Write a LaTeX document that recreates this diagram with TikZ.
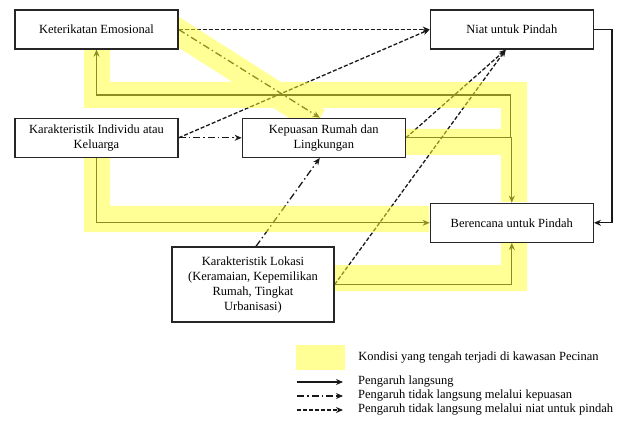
\documentclass[tikz,border=0pt]{standalone}
\usepackage{fontspec}
\setmainfont{Liberation Serif}
\usepackage{tikz}
\usetikzlibrary{arrows.meta, positioning}
\definecolor{garis}{RGB}{25,25,25}
\definecolor{sorot}{RGB}{255,255,45}
\definecolor{sorotmuda}{RGB}{255,255,150}
\pgfdeclarelayer{dasar}
\pgfdeclarelayer{sorotan}
\pgfsetlayers{dasar,sorotan,main}
\tikzset{
  kotak/.style={rectangle, draw=black!85, fill=white, line width=1.3pt,
    minimum width=163pt, minimum height=39pt, align=center, inner sep=2pt,
    font=\fontsize{12.5}{15}\selectfont},
  langsung/.style={-{Stealth[length=7pt, width=6pt]}, line width=1.3pt, color=garis},
  lewatpuas/.style={langsung, dash pattern=on 7pt off 3pt on 1.5pt off 3pt},
  lewatniat/.style={langsung, dash pattern=on 4pt off 2pt},
  pecinan/.style={line width=26pt, color=sorot},
  keterangan/.style={anchor=west, inner sep=0pt, font=\fontsize{12.5}{15}\selectfont}
}
\begin{document}
\begin{tikzpicture}[x=1pt, y=-1pt]
  \useasboundingbox (0,0) rectangle (637,422);
  % kotak-kotak
  \node[kotak] (emosi) at (96.5,29.5) {Keterikatan Emosional};
  \node[kotak, right=251pt of emosi] (niat) {Niat untuk Pindah};
  \node[kotak, below=68pt of emosi] (individu) {Karakteristik Individu atau\\Keluarga};
  \node[kotak, right=63pt of individu] (puas) {Kepuasan Rumah dan\\Lingkungan};
  \node[kotak, below=153pt of niat] (rencana) {Berencana untuk Pindah};
  \node[kotak, minimum width=162pt, minimum height=75pt] (lokasi) at (253,284.5)
    {Karakteristik Lokasi\\(Keramaian, Kepemilikan\\Rumah, Tingkat\\Urbanisasi)};
  \coordinate (simpang) at (510.5,95);
  % panah
  \begin{pgfonlayer}{dasar}
    \draw[lewatniat] (emosi.east) -- (niat.west);
    \draw[lewatpuas] (emosi.east) -- ([xshift=-4pt]puas.north);
    \draw[lewatpuas] (individu.east) -- (puas.west);
    \draw[lewatniat] (individu.east) -- (niat.west);
    \draw[lewatniat] (puas.east) -- ([xshift=-6pt]niat.south);
    \draw[lewatniat] (lokasi.east) -- ([xshift=-6pt]niat.south);
    \draw[lewatpuas] ([xshift=3pt]lokasi.north) -- ([xshift=-4pt]puas.south);
    \draw[langsung] (niat.east) -- ++(18,0) |- (rencana.east);
    \draw[langsung] (individu.south) |- (rencana.west);
    \draw[langsung] (lokasi.east) -| (rencana.south);
    \draw[langsung] (puas.east) -| (rencana.north);
    \draw[langsung] (puas.east) -| (simpang) -| (emosi.south);
  \end{pgfonlayer}
  % kondisi di kawasan Pecinan
  \begin{pgfonlayer}{sorotan}
    \begin{scope}[transparency group, opacity=0.5]
      \draw[pecinan] (97,49) -- (97,95) -- (514,95) -- (514,202);
      \draw[pecinan] (402,142) -- (514,142);
      \draw[pecinan] (97,156) -- (97,219) -- (429,219);
      \draw[pecinan] (334,278) -- (514,278) -- (514,240);
      \draw[pecinan] (172,28) -- (318,121);
    \end{scope}
  \end{pgfonlayer}
  % keterangan
  \node[fill=sorotmuda, minimum width=49pt, minimum height=25pt, inner sep=0pt] (contoh) at (320.5,357.5) {};
  \node[keterangan, right=13pt of contoh] (tkondisi) {Kondisi yang tengah terjadi di kawasan Pecinan};
  \coordinate (l1a) at (297,382); \coordinate (l1b) at (343,382);
  \coordinate (l2a) at (297,396); \coordinate (l2b) at (343,396);
  \coordinate (l3a) at (297,410); \coordinate (l3b) at (343,410);
  \draw[langsung, line width=1.8pt] (l1a) -- (l1b);
  \draw[lewatpuas, line width=1.8pt] (l2a) -- (l2b);
  \draw[lewatniat, line width=1.8pt] (l3a) -- (l3b);
  \node[keterangan] (t1) at (358,382) {Pengaruh langsung};
  \node[keterangan] (t2) at (358,396) {Pengaruh tidak langsung melalui kepuasan};
  \node[keterangan] (t3) at (358,410) {Pengaruh tidak langsung melalui niat untuk pindah};
\end{tikzpicture}
\end{document}
